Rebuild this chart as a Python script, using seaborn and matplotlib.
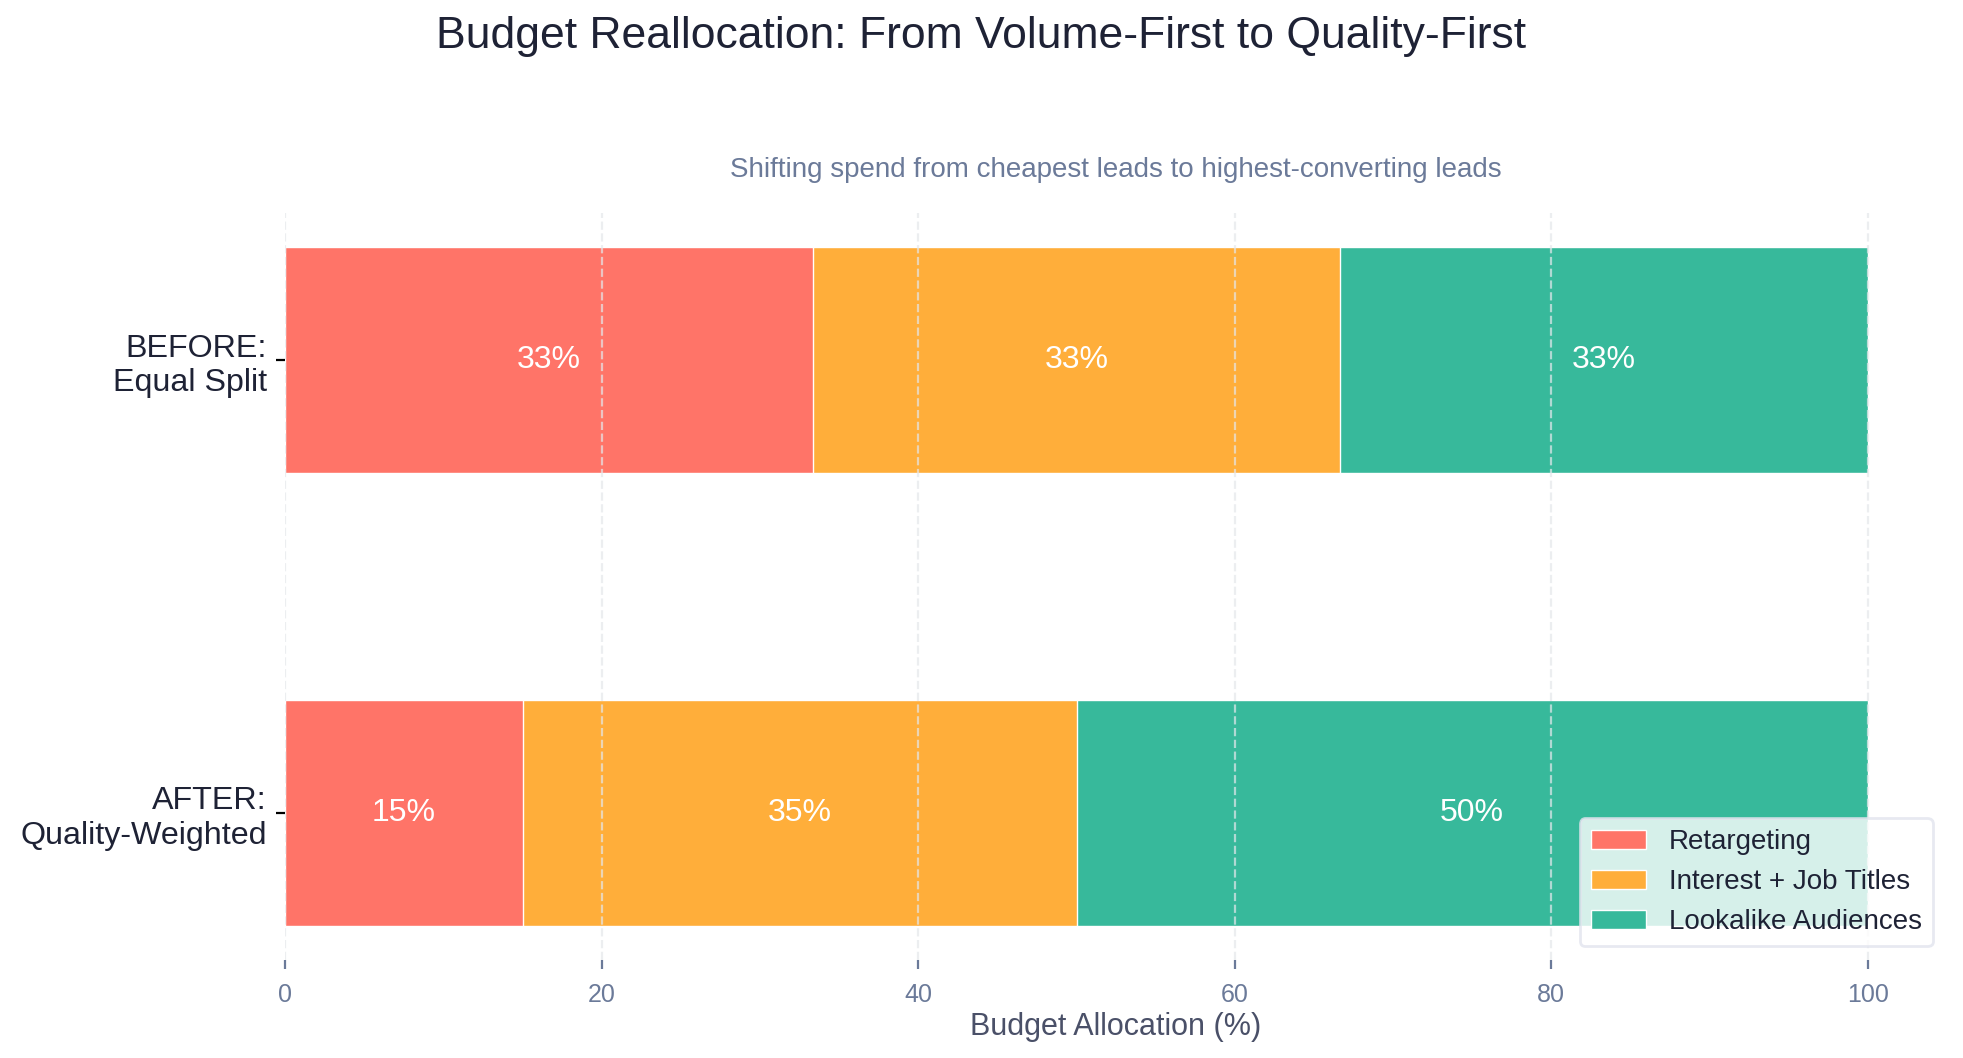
import matplotlib
matplotlib.use("Agg")
import matplotlib.pyplot as plt
from matplotlib.patches import Patch
import seaborn as sns
import pandas as pd
import numpy as np

# ---- data ----
stages = ["BEFORE:\nEqual Split", "AFTER:\nQuality-Weighted"]
series_names = ["Retargeting", "Interest + Job Titles", "Lookalike Audiences"]
retargeting = [33.33, 15.0]
interest_job_titles = [33.33, 35.0]
lookalike_audiences = [33.34, 50.0]
series_colors = ["#FF7468", "#FFAE3A", "#37B99B"]
xticks = [0, 20, 40, 60, 80, 100]

title = "Budget Reallocation: From Volume-First to Quality-First"
subtitle = "Shifting spend from cheapest leads to highest-converting leads"
xlabel = "Budget Allocation (%)"

sns.set_theme(style="white")
plt.rcParams["font.family"] = ["Liberation Sans", "DejaVu Sans"]

fig = plt.figure(figsize=(9.815, 5.29), dpi=200)
ax = fig.add_axes([0.1454, 0.0926, 0.9917 - 0.1454, 0.7987 - 0.0926])

values = [retargeting, interest_job_titles, lookalike_audiences]
cum = np.cumsum(np.array(values), axis=0)

# draw stacked bars as overlaid cumulative bars (largest first)
for k in range(len(series_names) - 1, -1, -1):
    df = pd.DataFrame({"stage": stages, "value": cum[k]})
    sns.barplot(data=df, x="value", y="stage", orient="h", color=series_colors[k],
                saturation=1, width=0.5, edgecolor="white", linewidth=0.5,
                ax=ax, errorbar=None, zorder=2)

# value labels
for k in range(len(series_names)):
    for i in range(len(stages)):
        left = cum[k][i] - values[k][i]
        ax.text(left + values[k][i] / 2, i, f"{values[k][i]:.0f}%", ha="center", va="center",
                color="white", fontsize=11.5, zorder=5)

ax.set_xlim(0, 105)
ax.set_ylim(1.325, -0.325)
ax.set_xticks(xticks)
ax.set_xlabel(xlabel, fontsize=11, color="#4A5068", labelpad=2)
ax.set_ylabel("")
ax.tick_params(axis="x", colors="#6B7A99", labelsize=9, length=3.2, width=0.8, pad=5)
ax.tick_params(axis="y", colors="black", labelcolor="#1E2235", labelsize=11.6, length=3.2, width=0.8, left=True)
ax.tick_params(axis="x", bottom=True)

for s in ax.spines.values():
    s.set_visible(False)

ax.set_axisbelow(False)
ax.grid(axis="x", color="#E5E7EB", linestyle="--", linewidth=0.8, alpha=0.7, zorder=3)
ax.grid(axis="y", visible=False)

ax.set_title(subtitle, fontsize=10, color="#6B7A99", pad=13)
fig.suptitle(title, fontsize=16, color="#1E2235", y=0.985, va="top")

handles = [Patch(facecolor=c, edgecolor="white", linewidth=0.5, label=n)
           for c, n in zip(series_colors, series_names)]
leg = ax.legend(handles=handles, loc="lower right", fontsize=10, frameon=True,
                fancybox=True, framealpha=0.8, edgecolor="#E2E4EE", labelspacing=0.5)
for t in leg.get_texts():
    t.set_color("#1E2235")
leg.set_zorder(10)

fig.savefig("out.png", dpi=200)
